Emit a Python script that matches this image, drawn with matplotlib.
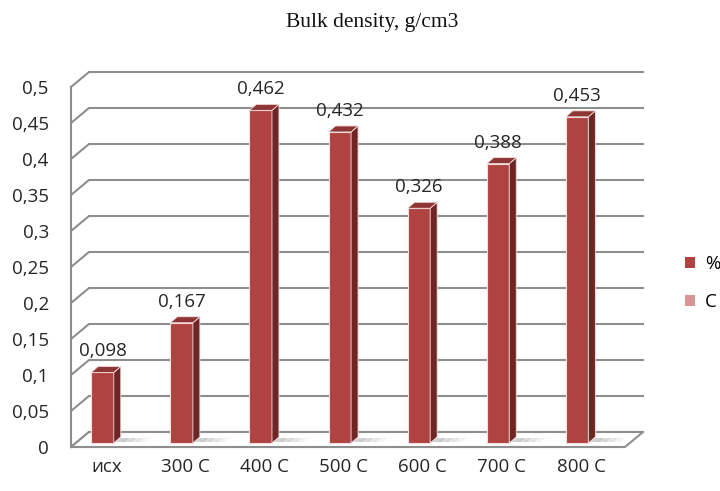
import numpy as np
import matplotlib
matplotlib.use("Agg")
import matplotlib.pyplot as plt
from matplotlib.patches import Polygon, Patch
from matplotlib import transforms

# Data
categories = ["исх", "300 C", "400 C", "500 C", "600 C", "700 C", "800 C"]
values = [0.098, 0.167, 0.462, 0.432, 0.326, 0.388, 0.453]
value_labels = ["0,098", "0,167", "0,462", "0,432", "0,326", "0,388", "0,453"]
y_ticks = [0, 0.05, 0.1, 0.15, 0.2, 0.25, 0.3, 0.35, 0.4, 0.45, 0.5]
y_tick_labels = ["0", "0,05", "0,1", "0,15", "0,2", "0,25", "0,3", "0,35", "0,4", "0,45", "0,5"]
legend_labels = ["%", "C"]
title = "Bulk density, g/cm3"

# Style
FRONT = "#AF4342"
SIDE = "#6E2524"
TOP = "#8E3634"
GRID = "#8E8E8E"
LABEL_FONT = "Open Sans"
FS = 13.5

W, H = 720, 491
fig = plt.figure(figsize=(W / 100, H / 100), dpi=100)
ax = fig.add_axes([71 / W, 44 / H, (625 - 71) / W, 360 / H])
xmin, xmax = -0.335, 6.669
ax.set_xlim(xmin, xmax)
ax.set_ylim(0, 0.5)

# 3-D look: screen-pixel offsets for depth
WALL_DX, WALL_DY = 18, 15      # back wall depth
BAR_DX, BAR_DY = 5, 4          # front face of the bars
BAR_DEPTH_X, BAR_DEPTH_Y = 7, 6
BAR_W = 0.285

fig.canvas.draw()
to_disp = ax.transData
to_data = ax.transData.inverted()


def shift(x, y, dx, dy):
    p = to_disp.transform((x, y)) + np.array([dx, dy])
    return tuple(to_data.transform(p))


# Back wall gridlines with the left-wall diagonals
for v in y_ticks:
    p0 = (xmin, v)
    p1 = shift(xmin, v, WALL_DX, WALL_DY)
    p2 = shift(xmax, v, WALL_DX, WALL_DY)
    ax.plot([p0[0], p1[0], p2[0]], [p0[1], p1[1], p2[1]], color=GRID,
            lw=1.5, clip_on=False, zorder=1, solid_joinstyle="miter")

# Floor outline
fl = [(xmin, 0), (xmax, 0), shift(xmax, 0, WALL_DX, WALL_DY), shift(xmin, 0, WALL_DX, WALL_DY)]
ax.add_patch(Polygon(fl, closed=True, facecolor="white", edgecolor=GRID, lw=1.5,
                     clip_on=False, zorder=1.5))

# Bars
off_front = transforms.offset_copy(ax.transData, fig=fig, x=BAR_DX, y=BAR_DY, units="dots")
for i, v in enumerate(values):
    xl, xr = i - BAR_W / 2, i + BAR_W / 2
    # floor shadow, fading to the right
    for k, a in enumerate([0.6, 0.45, 0.3, 0.15]):
        s0, s1 = 7 * k, 7 * (k + 1)
        sh = [shift(xr, 0, BAR_DX + s0, BAR_DY + 1), shift(xr, 0, BAR_DX + s1 + 4, BAR_DY + 1),
              shift(xr, 0, BAR_DX + s1 + 8, BAR_DY + 5), shift(xr, 0, BAR_DX + s0 + 7, BAR_DY + 5)]
        ax.add_patch(Polygon(sh, closed=True, facecolor="#B5B5B5", edgecolor="none",
                             alpha=a, clip_on=False, zorder=2))
    # front face
    ax.bar(i, v, width=BAR_W, color=FRONT, edgecolor="#F2DCDC", linewidth=0.8,
           transform=off_front, clip_on=False, zorder=3)
    # side face
    side = [shift(xr, 0, BAR_DX, BAR_DY), shift(xr, 0, BAR_DX + BAR_DEPTH_X, BAR_DY + BAR_DEPTH_Y),
            shift(xr, v, BAR_DX + BAR_DEPTH_X, BAR_DY + BAR_DEPTH_Y), shift(xr, v, BAR_DX, BAR_DY)]
    ax.add_patch(Polygon(side, closed=True, facecolor=SIDE, edgecolor="#F2DCDC", lw=0.6,
                         clip_on=False, zorder=3))
    # top face
    top = [shift(xl, v, BAR_DX, BAR_DY), shift(xr, v, BAR_DX, BAR_DY),
           shift(xr, v, BAR_DX + BAR_DEPTH_X, BAR_DY + BAR_DEPTH_Y),
           shift(xl, v, BAR_DX + BAR_DEPTH_X, BAR_DY + BAR_DEPTH_Y)]
    ax.add_patch(Polygon(top, closed=True, facecolor=TOP, edgecolor="#F2DCDC", lw=0.6,
                         clip_on=False, zorder=3))
    # value label
    ax.annotate(value_labels[i], xy=(i, v), xycoords=off_front, xytext=(0, 21 * 0.72),
                textcoords="offset points", ha="center", va="center",
                fontsize=FS, family=LABEL_FONT, color="#262626", zorder=5)

# Axes, ticks
for s in ["top", "right", "bottom"]:
    ax.spines[s].set_visible(False)
ax.spines["left"].set_color(GRID)
ax.spines["left"].set_linewidth(1.5)
ax.spines["left"].set_zorder(1.6)
ax.set_yticks(y_ticks)
ax.set_yticklabels(y_tick_labels, fontsize=FS, family=LABEL_FONT, color="#262626")
ax.tick_params(axis="y", length=0, pad=16)
ax.set_xticks(range(len(categories)))
ax.set_xticklabels(categories, fontsize=FS, family=LABEL_FONT, color="#262626")
ax.tick_params(axis="x", length=0, pad=8)
label_shift = transforms.ScaledTranslation(9 / 100, 0, fig.dpi_scale_trans)
for lbl in ax.get_xticklabels():
    lbl.set_transform(lbl.get_transform() + label_shift)
ax.set_facecolor("none")

# Legend
handles = [Patch(facecolor=FRONT, edgecolor="none"), Patch(facecolor="#D99594", edgecolor="none")]
fig.legend(handles, legend_labels, loc="center left", bbox_to_anchor=(685 / W, 1 - 283 / H),
           frameon=False, prop={"family": LABEL_FONT, "size": FS},
           borderpad=0, borderaxespad=0,
           handlelength=0.55, handleheight=0.55, handletextpad=0.5, labelspacing=1.05)

fig.text(372 / W, 1 - 22 / H, title, ha="center", va="center",
         family="Liberation Serif", fontsize=15.5, color="#111111")

fig.savefig("out.png", dpi=100)
